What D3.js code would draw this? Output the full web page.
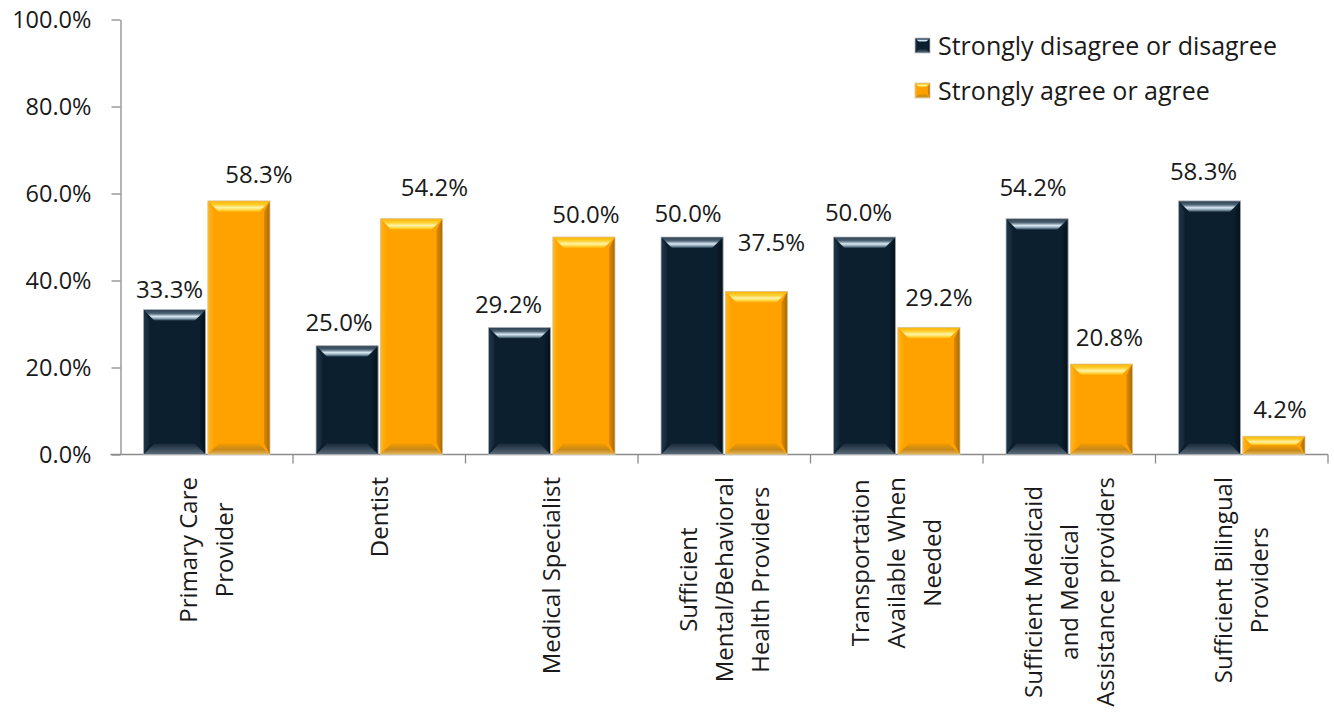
<!DOCTYPE html>
<html>
<head>
<meta charset="utf-8">
<script src="https://cdn.jsdelivr.net/npm/d3@7"></script>
<style>
  html, body { margin: 0; padding: 0; background: #fff; }
  svg { display: block; font-family: "Open Sans", "Noto Sans", sans-serif; }
</style>
</head>
<body>
<svg id="chart" width="1334" height="713"></svg>
<script>
// Survey categories (line breaks mark the wrapped axis labels)
const categories = [
  "Primary Care\nProvider",
  "Dentist",
  "Medical Specialist",
  "Sufficient\nMental/Behavioral\nHealth Providers",
  "Transportation\nAvailable When\nNeeded",
  "Sufficient Medicaid\nand Medical\nAssistance providers",
  "Sufficient Bilingual\nProviders"
];
const seriesNames = ["Strongly disagree or disagree", "Strongly agree or agree"];
const disagreeValues = [33.3, 25.0, 29.2, 50.0, 50.0, 54.2, 58.3];
const agreeValues    = [58.3, 54.2, 50.0, 37.5, 29.2, 20.8, 4.2];
const yTicks = [0, 20, 40, 60, 80, 100];

// Hand-placed value labels: [dx from bar centre, baseline gap above bar top]
const disagreeLabelNudge = [[-5, 12], [-8, 15], [-11, 14], [-4, 15], [-6, 16], [-4, 23], [-6, 21]];
const agreeLabelNudge    = [[20, 18], [23, 23], [2, 14], [15, 40], [10, 21], [8, 18], [6, 18]];

const svg = d3.select("#chart");

const plotLeft = 120.5, plotRight = 1328, plotBottom = 454.5, plotTop = 19.5;
const x = d3.scaleBand().domain(categories).range([plotLeft, plotRight]).paddingInner(0).paddingOuter(0);
const xSeries = d3.scaleBand().domain(seriesNames).range([23, x.bandwidth() - 23]).paddingInner(0.035);
const y = d3.scaleLinear().domain([0, 100]).range([plotBottom, plotTop]);

// Bevel palettes for the two series
const palettes = [
  { id: "dark", face: "#0c1f2e", stroke: "#b9bec4",
    top: [["0%", "#26394a"], ["35%", "#4f6677"], ["62%", "#d8e8f2"], ["80%", "#8fa8b8"], ["100%", "#1e3243"]],
    bottom: [["0%", "#17293a"], ["55%", "#3a4c5a"], ["100%", "#5e6e7a"]],
    left: [["0%", "#22384a"], ["100%", "#122636"]],
    right: [["0%", "#0b1b28"], ["100%", "#06121c"]] },
  { id: "orange", face: "#ffa200", stroke: "#d8c7a0",
    top: [["0%", "#ffb000"], ["35%", "#ffd030"], ["62%", "#fff4a8"], ["80%", "#ffdc50"], ["100%", "#ffb000"]],
    bottom: [["0%", "#f29c00"], ["55%", "#c98818"], ["100%", "#e2b660"]],
    left: [["0%", "#ffb51e"], ["100%", "#ffa400"]],
    right: [["0%", "#e08a00"], ["100%", "#a86a08"]] }
];

const defs = svg.append("defs");
palettes.forEach(p => {
  [["top", 0, 0, 0, 1], ["bottom", 0, 0, 0, 1], ["left", 0, 0, 1, 0], ["right", 0, 0, 1, 0]].forEach(([k, x1, y1, x2, y2]) => {
    const g = defs.append("linearGradient").attr("id", `${p.id}-${k}`)
      .attr("x1", x1).attr("y1", y1).attr("x2", x2).attr("y2", y2);
    p[k].forEach(([o, c]) => g.append("stop").attr("offset", o).attr("stop-color", c));
  });
});

// Draws a bevelled rectangle: flat face plus four shaded edges
function bevelBar(g, bx, by, w, h, p, depth) {
  const b = Math.min(depth, h / 2, w / 2);
  const grp = g.append("g");
  grp.append("rect").attr("x", bx).attr("y", by).attr("width", w).attr("height", h).attr("fill", p.face);
  const pts = {
    top: [[bx, by], [bx + w, by], [bx + w - b, by + b], [bx + b, by + b]],
    bottom: [[bx + b, by + h - b], [bx + w - b, by + h - b], [bx + w, by + h], [bx, by + h]],
    left: [[bx, by], [bx + b * 0.55, by + b], [bx + b * 0.55, by + h - b], [bx, by + h]],
    right: [[bx + w, by], [bx + w, by + h], [bx + w - b * 0.55, by + h - b], [bx + w - b * 0.55, by + b]]
  };
  ["left", "right", "top", "bottom"].forEach(k => {
    grp.append("polygon").attr("points", pts[k].map(d => d.join(",")).join(" "))
      .attr("fill", `url(#${p.id}-${k})`);
  });
  grp.append("rect").attr("x", bx).attr("y", by).attr("width", w).attr("height", h)
    .attr("fill", "none").attr("stroke", p.stroke).attr("stroke-width", 0.8);
}

// Y axis
const yAxis = d3.axisLeft(y).tickValues(yTicks).tickFormat(d => d.toFixed(1) + "%")
  .tickSize(9).tickSizeOuter(0).tickPadding(20);
const yg = svg.append("g").attr("transform", `translate(${plotLeft},0)`).call(yAxis);
yg.selectAll("path, line").attr("stroke", "#8c8c8c").attr("stroke-width", 1.3);
yg.selectAll("text").attr("font-size", 23.5).attr("fill", "#1a1a1a")
  .attr("font-family", "Open Sans, Noto Sans, sans-serif");

// X axis baseline and category boundary ticks
const xg = svg.append("g");
xg.append("line").attr("x1", plotLeft - 10).attr("x2", plotRight).attr("y1", plotBottom).attr("y2", plotBottom)
  .attr("stroke", "#8c8c8c").attr("stroke-width", 1.3);
xg.selectAll("line.tick").data(categories.slice(1).concat([null])).join("line")
  .attr("class", "tick")
  .attr("x1", d => d === null ? plotRight : x(d)).attr("x2", d => d === null ? plotRight : x(d))
  .attr("y1", plotBottom).attr("y2", plotBottom + 9)
  .attr("stroke", "#8c8c8c").attr("stroke-width", 1.3);

// Bars and their value labels
const seriesValues = [disagreeValues, agreeValues];
const labelNudges = [disagreeLabelNudge, agreeLabelNudge];
const barLayer = svg.append("g");
const labelLayer = svg.append("g");
categories.forEach((c, i) => {
  seriesNames.forEach((s, j) => {
    const v = seriesValues[j][i];
    const bx = x(c) + xSeries(s);
    const w = xSeries.bandwidth();
    const [dx, gap] = labelNudges[j][i];
    bevelBar(barLayer, bx, y(v), w, y(0) - y(v), palettes[j], 11);
    labelLayer.append("text")
      .attr("x", bx + w / 2 + dx).attr("y", y(v) - gap)
      .attr("text-anchor", "middle").attr("font-size", 24).attr("fill", "#1a1a1a")
      .text(v.toFixed(1) + "%");
  });
});

// Rotated category labels, lines centred on each other, tops aligned
const catLayer = svg.append("g");
categories.forEach(c => {
  const lines = c.split("\n");
  const cx = x(c) + x.bandwidth() / 2;
  const g = catLayer.append("g").attr("transform", `translate(${cx},477) rotate(-90)`);
  const texts = lines.map((ln, i) => g.append("text")
    .attr("text-anchor", "middle").attr("font-size", 24).attr("fill", "#1a1a1a")
    .attr("y", (i - (lines.length - 1) / 2) * 36).attr("dy", "0.36em").text(ln));
  const maxW = d3.max(texts, t => t.node().getComputedTextLength());
  texts.forEach(t => t.attr("x", -maxW / 2));
});

// Legend
const legend = svg.append("g");
seriesNames.forEach((s, j) => {
  const ly = 38 + j * 45;
  bevelBar(legend, 915, ly, 15, 15, palettes[j], 4);
  legend.append("text").attr("x", 938).attr("y", ly + 17).attr("font-size", 25)
    .attr("fill", "#1a1a1a").text(s);
});
</script>
</body>
</html>
